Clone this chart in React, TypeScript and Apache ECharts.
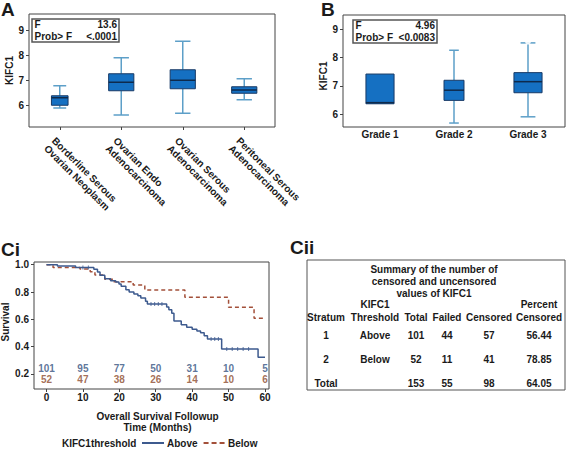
import React, { useEffect, useRef } from "react";
import * as echarts from "echarts";

// ---------- DATA ----------
const histologyCategories = [
  "Borderline Serous\nOvarian Neoplasm",
  "Ovarian Endo\nAdenocarcinoma",
  "Ovarian Serous\nAdenocarcinoma",
  "Peritoneal Serous\nAdenocarcinoma",
];
// [low whisker, Q1, median, Q3, high whisker]
const histologyBoxes = [
  [5.88, 5.99, 6.29, 6.37, 6.77],
  [5.6, 6.57, 6.91, 7.25, 7.89],
  [5.67, 6.65, 6.99, 7.41, 8.55],
  [6.21, 6.47, 6.6, 6.73, 7.05],
];
const histologyOutliers = [
  [0, 5.37],
  [2, 9.37],
  [2, 8.87],
  [2, 8.82],
  [3, 7.73],
  [3, 7.44],
];
const histologyAnova = ["13.6", "<.0001"];

const gradeCategories = ["Grade 1", "Grade 2", "Grade 3"];
const gradeBoxes = [
  [6.37, 6.37, 6.41, 7.42, 7.42],
  [5.69, 6.49, 6.85, 7.2, 8.26],
  [5.91, 6.76, 7.15, 7.47, 8.52],
];
const gradeOutliers = [
  [2, 9.35],
  [2, 8.82],
  [2, 8.56],
];
const gradeAnova = ["4.96", "<0.0083"];
const anovaLabels = ["F", "Prob> F"];

const boxTicks = [6, 7, 8, 9];

// Kaplan-Meier steps [month, survival]
const aboveSteps = [
  [0, 1], [3, 0.99], [8, 0.98], [13, 0.967], [14, 0.947], [14.7, 0.922],
  [16, 0.898], [17.6, 0.883], [19, 0.873], [19.9, 0.859], [20.5, 0.842],
  [21.8, 0.817], [22.7, 0.8], [24, 0.786], [25.1, 0.773], [25.9, 0.756],
  [27.2, 0.732], [27.7, 0.712], [33, 0.69], [33.6, 0.67], [34.4, 0.645],
  [35, 0.587], [37, 0.56], [38.5, 0.542], [40, 0.527], [41.3, 0.514],
  [42.3, 0.502], [43.3, 0.48], [44.2, 0.455], [48.1, 0.383], [58.1, 0.322],
  [60, 0.322],
];
const belowSteps = [
  [0, 1], [1.8, 0.98], [9.2, 0.968], [12, 0.949], [13.3, 0.925], [16, 0.893],
  [18.4, 0.876], [23.8, 0.851], [27, 0.815], [38, 0.761], [50, 0.688],
  [57, 0.607], [60.2, 0.607],
];
const aboveCensored = [
  [10, 0.98], [11.5, 0.98], [28.7, 0.712], [29.7, 0.712], [30.7, 0.712],
  [31.7, 0.712], [45.2, 0.455], [46.2, 0.455], [47.2, 0.455], [49.5, 0.383],
  [51, 0.383], [52.5, 0.383], [54, 0.383], [55.5, 0.383],
];
const riskMonths = [0, 10, 20, 30, 40, 50, 60];
const riskAbove = [101, 95, 77, 50, 31, 10, 5];
const riskBelow = [52, 47, 38, 26, 14, 10, 6];
const kmTicksX = [0, 10, 20, 30, 40, 50, 60];
const kmTicksY = [0.2, 0.4, 0.6, 0.8, 1.0];

const tableTitle = ["Summary of the number of", "censored and uncensored", "values of KIFC1"];
const tableHeaderTop = ["", "KIFC1", "", "", "", "Percent"];
const tableHeader = ["Stratum", "Threshold", "Total", "Failed", "Censored", "Censored"];
const tableRows = [
  ["1", "Above", "101", "44", "57", "56.44"],
  ["2", "Below", "52", "11", "41", "78.85"],
  ["Total", "", "153", "55", "98", "64.05"],
];

// ---------- STYLE ----------
const FONT = '"Liberation Sans", Arial, sans-serif';
const TXT = "#1a1a1a";
const FRAME = "#444";
const BOX_FILL = "#1570c2";
const BOX_EDGE = "#183a66";
const MEDIAN = "#0e2a4c";
const WHISKER = "#5d9fc8";
const BLUE = "#3d5a8e";
const RED = "#a3503a";
const RISK_BLUE = "#34527f";
const RISK_RED = "#8c4a2c";
const ABOVE_ROW_Y = 0.242;
const BELOW_ROW_Y = 0.157;
const KM_X_MIN = -3.43;
const KM_LABEL_GAP = 5;
const histBoxRatio = [0.27, 0.41, 0.41, 0.41];
const histCapRatio = [0.21, 0.25, 0.25, 0.25];
const gradeBoxRatio = [0.38, 0.27, 0.38];
const gradeCapRatio = [0.0, 0.13, 0.2];
const tableCols = [326, 375, 416, 447, 489, 539];
const tableRowY = [335, 359, 383];
const SOLID_ICON = "path://M0,0H22V2H0Z";
const DASH_ICON = "path://M0,0H5V2H0Z M8,0H13V2H8Z M16,0H21V2H16Z";

function txt(x: number, y: number, text: string, align: string, extra: any = {}) {
  const style: any = {
    text,
    fill: extra.fill || TXT,
    font: `bold ${extra.size || 10}px ${FONT}`,
    align,
    verticalAlign: "middle",
    textAlign: align,
    textVerticalAlign: "middle",
  };
  if (extra.lineHeight) style.lineHeight = extra.lineHeight;
  return {
    type: "text",
    x,
    y,
    rotation: extra.rotation || 0,
    z: extra.z || 50,
    silent: true,
    style,
  };
}

function boxRender(boxRatio: number[], capRatio: number[]) {
  return (params: any, api: any) => {
    const idx = api.value(0);
    const band = api.size([1, 0])[0];
    const bw = band * boxRatio[idx];
    const cw = band * capRatio[idx];
    const pLow = api.coord([idx, api.value(1)]);
    const pQ1 = api.coord([idx, api.value(2)]);
    const pMed = api.coord([idx, api.value(3)]);
    const pQ3 = api.coord([idx, api.value(4)]);
    const pHigh = api.coord([idx, api.value(5)]);
    const cx = pMed[0];
    const ws = { stroke: WHISKER, lineWidth: 1.5 };
    const children: any[] = [];
    if (pLow[1] - pQ1[1] > 0.5) {
      children.push({ type: "line", shape: { x1: cx, y1: pQ1[1], x2: cx, y2: pLow[1] }, style: ws });
      children.push({ type: "line", shape: { x1: cx - cw / 2, y1: pLow[1], x2: cx + cw / 2, y2: pLow[1] }, style: ws });
    }
    if (pQ3[1] - pHigh[1] > 0.5) {
      children.push({ type: "line", shape: { x1: cx, y1: pQ3[1], x2: cx, y2: pHigh[1] }, style: ws });
      children.push({ type: "line", shape: { x1: cx - cw / 2, y1: pHigh[1], x2: cx + cw / 2, y2: pHigh[1] }, style: ws });
    }
    children.push({
      type: "rect",
      shape: { x: cx - bw / 2, y: pQ3[1], width: bw, height: pQ1[1] - pQ3[1] },
      style: { fill: BOX_FILL, stroke: BOX_EDGE, lineWidth: 1 },
    });
    children.push({
      type: "line",
      shape: { x1: cx - bw / 2, y1: pMed[1], x2: cx + bw / 2, y2: pMed[1] },
      style: { stroke: MEDIAN, lineWidth: 1.5 },
    });
    return { type: "group", children };
  };
}

const labelStyle = { color: TXT, fontWeight: "bold", fontSize: 10, fontFamily: FONT };

export default function App() {
  const ref = useRef<HTMLDivElement>(null);
  useEffect(() => {
    if (!ref.current) return;
    const chart = echarts.init(ref.current, null, { renderer: "svg" });

    const graphic: any[] = [];
    // panel labels
    graphic.push(txt(1, 9, "A", "left", { size: 19 }));
    graphic.push(txt(321, 9, "B", "left", { size: 19 }));
    graphic.push(txt(1, 249, "Ci", "left", { size: 19 }));
    graphic.push(txt(290, 247, "Cii", "left", { size: 19 }));
    // ANOVA inset A
    graphic.push({ type: "rect", shape: { x: 32, y: 19, width: 87, height: 23 }, style: { fill: "#fff", stroke: "#555", lineWidth: 1.5 }, z: 40 });
    graphic.push(txt(34.5, 24.5, anovaLabels[0], "left"));
    graphic.push(txt(117, 24.5, histologyAnova[0], "right"));
    graphic.push(txt(34.5, 36, anovaLabels[1], "left"));
    graphic.push(txt(117, 36, histologyAnova[1], "right"));
    // ANOVA inset B
    graphic.push({ type: "rect", shape: { x: 353, y: 20, width: 84, height: 23 }, style: { fill: "#fff", stroke: "#555", lineWidth: 1.5 }, z: 40 });
    graphic.push(txt(355.5, 25.5, anovaLabels[0], "left"));
    graphic.push(txt(435, 25.5, gradeAnova[0], "right"));
    graphic.push(txt(355.5, 37, anovaLabels[1], "left"));
    graphic.push(txt(435, 37, gradeAnova[1], "right"));
    // KM legend title
    graphic.push(txt(62, 443, "KIFC1threshold", "left"));
    // Table
    graphic.push({ type: "rect", shape: { x: 307, y: 260, width: 258, height: 130 }, style: { fill: "none", stroke: "#555", lineWidth: 1 } });
    tableTitle.forEach((t, i) => graphic.push(txt(434, 269 + i * 12, t, "center")));
    tableHeaderTop.forEach((t, i) => t && graphic.push(txt(tableCols[i], 304, t, "center")));
    tableHeader.forEach((t, i) => graphic.push(txt(tableCols[i], 317.5, t, "center")));
    tableRows.forEach((row, r) =>
      row.forEach((t, c) => t && graphic.push(txt(tableCols[c], tableRowY[r], t, "center")))
    );

    const option: any = {
      animation: false,
      backgroundColor: "#fff",
      textStyle: { fontFamily: FONT },
      graphic,
      legend: {
        data: [
          { name: "Above", icon: SOLID_ICON },
          { name: "Below", icon: DASH_ICON },
        ],
        left: 142,
        top: 437,
        padding: 0,
        itemWidth: 22,
        itemHeight: 2,
        itemGap: 6,
        textStyle: { ...labelStyle, padding: [0, 0, 0, -2], lineHeight: 12 },
      },
      grid: [
        { left: 29, top: 14, width: 246, height: 113, show: true, borderColor: FRAME, borderWidth: 1, containLabel: false },
        { left: 343, top: 15, width: 222, height: 112, show: true, borderColor: FRAME, borderWidth: 1, containLabel: false },
        { left: 34, top: 262, width: 235, height: 127, show: true, borderColor: FRAME, borderWidth: 1, containLabel: false },
      ],
      xAxis: [
        {
          type: "category",
          gridIndex: 0,
          data: histologyCategories,
          axisLine: { show: false },
          axisTick: { show: true, alignWithLabel: true, length: 3, lineStyle: { color: FRAME } },
          axisLabel: {
            ...labelStyle,
            interval: 0,
            rotate: -45,
            align: "left",
            verticalAlign: "top",
            margin: 6,
            lineHeight: 11,
            padding: [3, 0, 0, 0],
          },
        },
        {
          type: "category",
          gridIndex: 1,
          data: gradeCategories,
          axisLine: { show: false },
          axisTick: { show: false },
          axisLabel: { ...labelStyle, interval: 0, margin: 2 },
        },
        {
          type: "value",
          gridIndex: 2,
          min: KM_X_MIN,
          max: 61.1,
          splitLine: { show: false },
          axisLine: { show: false, onZero: false },
          axisTick: { show: true, length: 3, customValues: kmTicksX, lineStyle: { color: FRAME } },
          axisLabel: { ...labelStyle, customValues: kmTicksX, margin: 3 },
          name: "Overall Survival Followup\nTime (Months)",
          nameLocation: "middle",
          nameGap: 22,
          nameTextStyle: { ...labelStyle, lineHeight: 11, verticalAlign: "top", padding: [0, 0, 0, 12] },
        },
      ],
      yAxis: [
        {
          type: "value",
          gridIndex: 0,
          min: 5.12,
          max: 9.64,
          splitLine: { show: false },
          axisLine: { show: false, onZero: false },
          axisTick: { show: true, length: 3, customValues: boxTicks, lineStyle: { color: FRAME } },
          axisLabel: { ...labelStyle, customValues: boxTicks, margin: 5 },
          name: "KIFC1",
          nameLocation: "middle",
          nameRotate: 90,
          nameGap: 15,
          nameTextStyle: labelStyle,
        },
        {
          type: "value",
          gridIndex: 1,
          min: 5.55,
          max: 9.505,
          splitLine: { show: false },
          axisLine: { show: false, onZero: false },
          axisTick: { show: true, length: 3, customValues: boxTicks, lineStyle: { color: FRAME } },
          axisLabel: { ...labelStyle, customValues: boxTicks, margin: 5 },
          name: "KIFC1",
          nameLocation: "middle",
          nameRotate: 90,
          nameGap: 10,
          nameTextStyle: { ...labelStyle, padding: [0, 10, 0, 0] },
        },
        {
          type: "value",
          gridIndex: 2,
          min: 0.089,
          max: 1.02,
          splitLine: { show: false },
          axisLine: { show: false, onZero: false },
          axisTick: { show: true, length: 3, customValues: kmTicksY, lineStyle: { color: FRAME } },
          axisLabel: { show: false },
        },
      ],
      series: [
        {
          type: "custom",
          name: "histology",
          xAxisIndex: 0,
          yAxisIndex: 0,
          renderItem: boxRender(histBoxRatio, histCapRatio),
          encode: { x: 0, y: [1, 2, 3, 4, 5] },
          data: histologyBoxes.map((b, i) => [i, ...b]),
        },
        {
          type: "scatter",
          name: "histologyOut",
          xAxisIndex: 0,
          yAxisIndex: 0,
          symbol: "emptyCircle",
          symbolSize: 4,
          itemStyle: { color: "#fff", borderColor: "#888", borderWidth: 1 },
          data: histologyOutliers,
        },
        {
          type: "custom",
          name: "grade",
          xAxisIndex: 1,
          yAxisIndex: 1,
          renderItem: boxRender(gradeBoxRatio, gradeCapRatio),
          encode: { x: 0, y: [1, 2, 3, 4, 5] },
          data: gradeBoxes.map((b, i) => [i, ...b]),
        },
        {
          type: "scatter",
          name: "gradeOut",
          xAxisIndex: 1,
          yAxisIndex: 1,
          symbol: "emptyCircle",
          symbolSize: 4,
          itemStyle: { color: "#fff", borderColor: "#888", borderWidth: 1 },
          data: gradeOutliers,
        },
        {
          type: "line",
          name: "Above",
          xAxisIndex: 2,
          yAxisIndex: 2,
          step: "end",
          symbol: "none",
          color: BLUE,
          itemStyle: { color: BLUE },
          lineStyle: { color: BLUE, width: 1.5 },
          data: aboveSteps,
          z: 3,
        },
        {
          type: "line",
          name: "Below",
          xAxisIndex: 2,
          yAxisIndex: 2,
          step: "end",
          symbol: "none",
          color: RED,
          itemStyle: { color: RED },
          lineStyle: { color: RED, width: 1.5, type: [4, 3] },
          data: belowSteps,
          z: 2,
        },
        {
          type: "scatter",
          name: "aboveCens",
          xAxisIndex: 2,
          yAxisIndex: 2,
          symbol: "rect",
          symbolSize: [1, 4],
          itemStyle: { color: BLUE },
          data: aboveCensored,
        },
        {
          type: "scatter",
          name: "riskAbove",
          xAxisIndex: 2,
          yAxisIndex: 2,
          symbolSize: 1,
          itemStyle: { color: "transparent" },
          label: { show: true, position: "inside", formatter: (p: any) => String(p.value[2]), ...labelStyle, color: RISK_BLUE },
          data: riskMonths.map((m, i) => [m, ABOVE_ROW_Y, riskAbove[i]]),
        },
        {
          type: "scatter",
          name: "riskBelow",
          xAxisIndex: 2,
          yAxisIndex: 2,
          symbolSize: 1,
          itemStyle: { color: "transparent" },
          label: { show: true, position: "inside", formatter: (p: any) => String(p.value[2]), ...labelStyle, color: RISK_RED },
          data: riskMonths.map((m, i) => [m, BELOW_ROW_Y, riskBelow[i]]),
        },
      ],
    };
    chart.setOption(option);

    // KM y tick labels as one block, spaced by the axis scale
    const lo = chart.convertToPixel({ gridIndex: 2 }, [KM_X_MIN, kmTicksY[0]]) as number[];
    const hi = chart.convertToPixel({ gridIndex: 2 }, [KM_X_MIN, kmTicksY[kmTicksY.length - 1]]) as number[];
    const step = (lo[1] - hi[1]) / (kmTicksY.length - 1);
    const block = kmTicksY.slice().reverse().map((v) => v.toFixed(1)).join("\n");
    const extra: any[] = [
      txt(lo[0] - KM_LABEL_GAP, (lo[1] + hi[1]) / 2, block, "right", { lineHeight: step, z: 60 }),
      txt(5, 322, "Survival", "center", { rotation: Math.PI / 2, z: 55 }),
    ];
    chart.setOption({ graphic: [...graphic, ...extra] });

    return () => chart.dispose();
  }, []);
  return (
    <div
      ref={ref}
      style={{ position: "fixed", left: 0, top: 0, width: 567, height: 449, background: "#fff" }}
    />
  );
}
